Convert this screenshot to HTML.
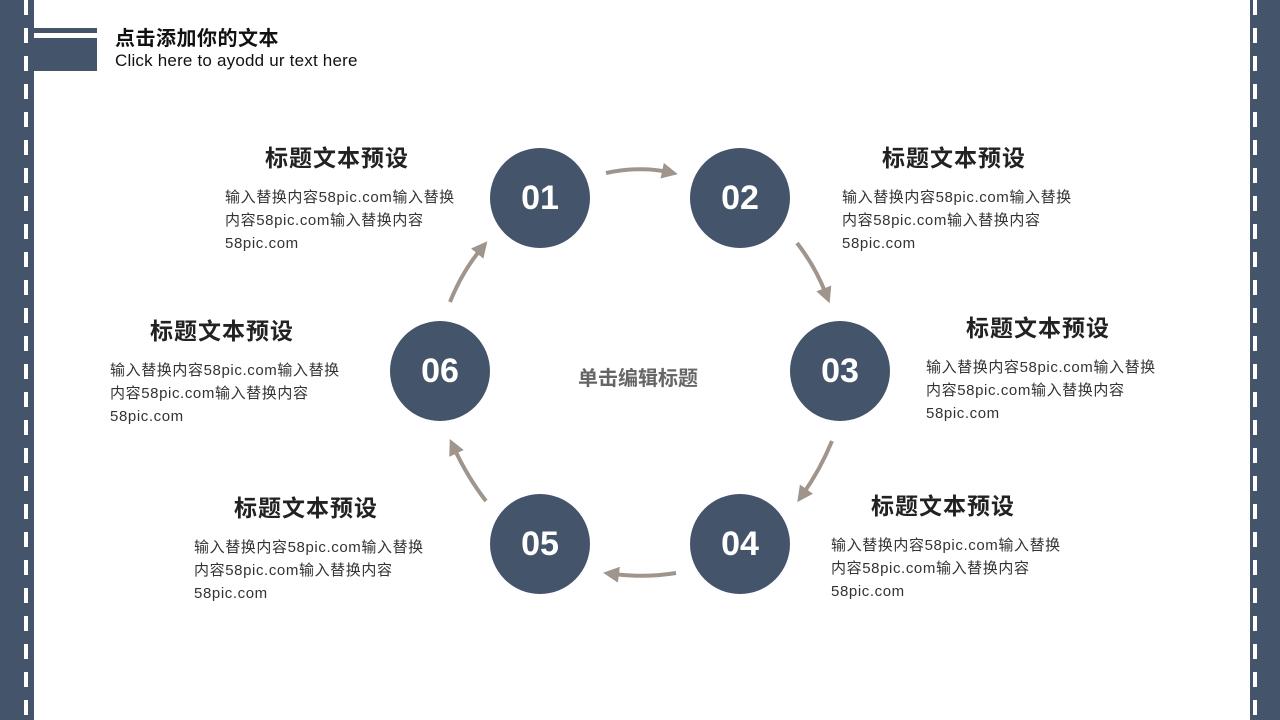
<!DOCTYPE html>
<html><head><meta charset="utf-8"><style>
html,body{margin:0;padding:0}
body{width:1280px;height:720px;position:relative;overflow:hidden;background:#fff;font-family:"Liberation Sans","Noto Sans CJK SC",sans-serif}
.t{position:absolute;font-size:23px;font-weight:bold;color:#222;white-space:nowrap;transform:translateX(-50%);line-height:30px;letter-spacing:1px}
.b{position:absolute;font-size:15px;color:#333;line-height:23px;white-space:nowrap;letter-spacing:0.6px}
.c{position:absolute;width:100px;height:100px;border-radius:50%;background:#44546a;color:#fff;font-size:34px;font-weight:bold;text-align:center;line-height:100px}
.dash{position:absolute;top:0;width:4px;height:720px;background:repeating-linear-gradient(to bottom,#fff 0,#fff 15px,transparent 15px,transparent 28px)}
</style></head><body>
<div style="position:absolute;left:0;top:0;width:34px;height:720px;background:#44546a"></div>
<div class="dash" style="left:24px"></div>
<div style="position:absolute;left:1250px;top:0;width:30px;height:720px;background:#44546a"></div>
<div class="dash" style="left:1253px"></div>
<div style="position:absolute;left:34px;top:28px;width:63px;height:5px;background:#44546a"></div>
<div style="position:absolute;left:34px;top:38px;width:63px;height:33px;background:#44546a"></div>
<svg width="1280" height="720" style="position:absolute;left:0;top:0">
<defs>
<marker id="ah" markerWidth="4" markerHeight="4" refX="1.5" refY="2" orient="auto" markerUnits="strokeWidth"><path d="M0,0 L4,2 L0,4 z" fill="#a0958d"/></marker>
</defs>
<g fill="none" stroke="#a0958d" stroke-width="4" marker-end="url(#ah)">
<path d="M606,173 Q640,166 668,172"/>
<path d="M797,243 Q815,266 826,294"/>
<path d="M832,441 Q820,470 803,494"/>
<path d="M676,573 Q645,578 613,574"/>
<path d="M486,501 Q468,478 454,448"/>
<path d="M450,302 Q462,272 481,249"/>
</g>
</svg>
<div style="position:absolute;left:115px;top:27px;font-size:20px;line-height:24px;font-weight:bold;color:#111;letter-spacing:0.5px">点击添加你的文本</div>
<div style="position:absolute;left:115px;top:51px;font-size:17px;line-height:20px;color:#111;letter-spacing:0.2px">Click here to ayodd ur text here</div>
<div class="c" style="left:490px;top:148px">01</div>
<div class="c" style="left:690px;top:148px">02</div>
<div class="c" style="left:790px;top:321px">03</div>
<div class="c" style="left:690px;top:494px">04</div>
<div class="c" style="left:490px;top:494px">05</div>
<div class="c" style="left:390px;top:321px">06</div>
<div style="position:absolute;left:578px;top:362px;font-size:20px;font-weight:bold;color:#666">单击编辑标题</div>
<div class="t" style="left:337px;top:143px">标题文本预设</div>
<div class="b" style="left:225px;top:186px">输入替换内容58pic.com输入替换<br>内容58pic.com输入替换内容<br>58pic.com</div>
<div class="t" style="left:954px;top:143px">标题文本预设</div>
<div class="b" style="left:842px;top:186px">输入替换内容58pic.com输入替换<br>内容58pic.com输入替换内容<br>58pic.com</div>
<div class="t" style="left:1038px;top:313px">标题文本预设</div>
<div class="b" style="left:926px;top:356px">输入替换内容58pic.com输入替换<br>内容58pic.com输入替换内容<br>58pic.com</div>
<div class="t" style="left:943px;top:491px">标题文本预设</div>
<div class="b" style="left:831px;top:534px">输入替换内容58pic.com输入替换<br>内容58pic.com输入替换内容<br>58pic.com</div>
<div class="t" style="left:306px;top:493px">标题文本预设</div>
<div class="b" style="left:194px;top:536px">输入替换内容58pic.com输入替换<br>内容58pic.com输入替换内容<br>58pic.com</div>
<div class="t" style="left:222px;top:316px">标题文本预设</div>
<div class="b" style="left:110px;top:359px">输入替换内容58pic.com输入替换<br>内容58pic.com输入替换内容<br>58pic.com</div>
</body></html>
